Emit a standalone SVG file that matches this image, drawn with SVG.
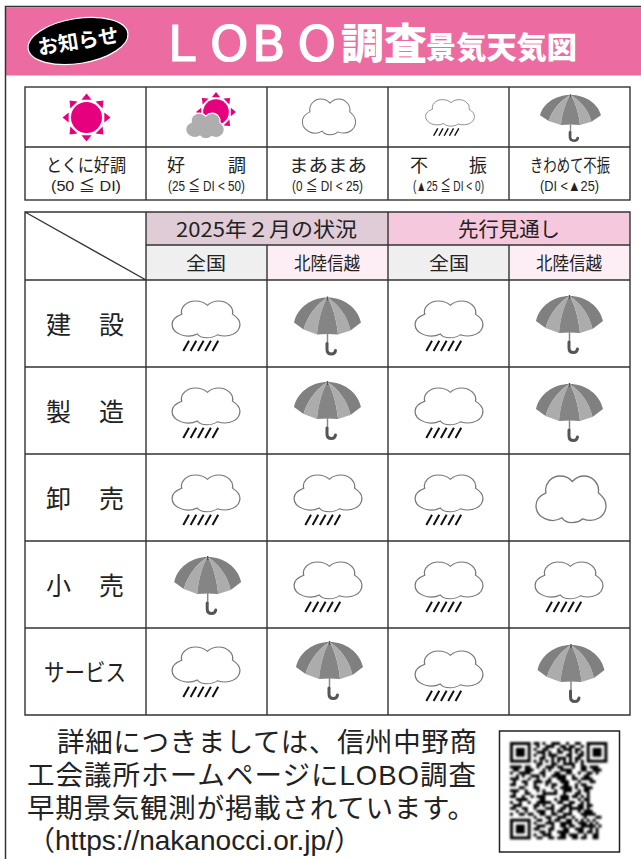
<svg xmlns="http://www.w3.org/2000/svg" width="641" height="859" viewBox="0 0 641 859">
<style>
text{font-family:"Noto Sans CJK JP","Noto Sans",sans-serif;fill:#222}
.grid{stroke:#333;stroke-width:1.4;fill:none}
.lab{font-size:18px}
.sm{font-size:15px;font-family:"Liberation Sans","Noto Sans CJK JP",sans-serif}
.hd{font-size:20.5px}
.sub{font-size:18px}
.row{font-size:25px}
.body{font-size:27.500px;font-family:"Liberation Sans","Noto Sans CJK JP",sans-serif;font-weight:400}
.cl{fill:#fff;stroke:#777;stroke-width:1.300;vector-effect:non-scaling-stroke}
.r{stroke:#111;stroke-width:2}
.ti{fill:#fff;font-weight:700}
</style>
<defs>
<path id="cp" d="M1.300,-18C5,-22 9,-23.500 13,-23.500C22,-23.500 29,-15 27.300,-6.700C32,-3 35,1 35,6C35,17 24,24 11.700,19.300C7,24 -5,25 -9,18.300C-20,25 -35,18 -35,6C-35,0 -31,-4 -25,-6.700C-27,-15 -20,-23.500 -11,-23.500C-6,-23.500 -2,-22 1.300,-18Z"/>
<g id="cloud"><use href="#cp" class="cl"/></g>
<g id="rain"><use href="#cp" class="cl" transform="scale(.97 .79)"/><path class="r" d="M-22.700 31.600L-17 21.300M-15.400 31.600L-9.700 21.300M-8.100 31.600L-2.400 21.300M-.8 31.600L4.900 21.300M6.500 31.600L12.200 21.300"/></g>
<g id="umb">
<path fill="#808080" d="M0,0C-16,0 -30,10 -33.500,25L-24,32C-20,18 -10,6 0,0Z"/>
<path fill="#acacac" d="M0,0C-10,6 -20,18 -24,32L-10.500,37C-9,20 -4,6 0,0Z"/>
<path fill="#858585" d="M0,0C-4,6 -9,20 -10.500,37Q0,36 10.500,37C9,20 4,6 0,0Z"/>
<path fill="#acacac" d="M0,0C10,6 20,18 23,33L10.500,37C9,20 4,6 0,0Z"/>
<path fill="#808080" d="M0,0C16,0 30,10 33.500,25L23,33C20,18 10,6 0,0Z"/>
<path d="M0,-1V3" stroke="#555" stroke-width="1.500"/>
<path d="M0,36V47" stroke="#888" stroke-width="1.500" fill="none"/>
<path d="M-.5,46V52Q-.5,56.500 4,56.500Q7.500,56.500 8,53" stroke="#555" stroke-width="3" fill="none" stroke-linecap="round"/>
</g>
<g id="sun">
<g fill="#e6007e">
<path id="ray" d="M0,-24L-5,-17.800H5Z"/>
<use href="#ray" transform="rotate(45)"/><use href="#ray" transform="rotate(90)"/><use href="#ray" transform="rotate(135)"/><use href="#ray" transform="rotate(180)"/><use href="#ray" transform="rotate(225)"/><use href="#ray" transform="rotate(270)"/><use href="#ray" transform="rotate(315)"/>
<circle r="15.500"/>
</g>
</g>
<filter id="soft" x="-5%" y="-5%" width="110%" height="110%"><feGaussianBlur stdDeviation=".45"/></filter>
</defs>

<rect width="641" height="859" fill="#fff"/>
<g id="header">
<rect x="6" y="7.500" width="635" height="68" fill="#ec6ca2"/>
<path d="M5.500 859V6.500H641" fill="none" stroke="#333" stroke-width="1.500"/>
<g id="badge" transform="rotate(-9 78 41)">
<ellipse cx="78" cy="41" rx="50.500" ry="22.500" fill="#000" stroke="#fff" stroke-width="1.200"/>
<text class="ti" x="78" y="48.500" font-size="20.500" text-anchor="middle">お知らせ</text>
</g>
<text class="ti" style="font-family:'DejaVu Sans',sans-serif;font-weight:400;stroke:#fff;stroke-width:1.200" font-size="49" y="61" x="168 210 252 297.500">LOBO</text>
<text class="ti" font-size="42.500" y="59" x="341" textLength="86" lengthAdjust="spacingAndGlyphs" style="font-weight:900">調査</text>
<text class="ti" font-size="30" y="57.500" x="426" textLength="151" lengthAdjust="spacingAndGlyphs" style="font-weight:900">景気天気図</text>
</g>

<g id="legend">
<rect x="25" y="87" width="605" height="113" class="grid"/>
<g id="connectors-legend" class="grid"><path d="M25 147H630M146 87V200M267 87V200M388 87V200M509 87V200"/></g>
<g id="leg1"><use href="#sun" x="86.500" y="117.500"/>
<text class="lab" x="46" y="171.500" textLength="80" lengthAdjust="spacingAndGlyphs">とくに好調</text>
<text class="sm" x="51" y="191" textLength="70" lengthAdjust="spacingAndGlyphs">(50 ≦ DI)</text></g>
<g id="leg2"><use href="#sun" transform="translate(216 112) scale(.83)"/>
<use href="#cp" transform="translate(205 126) scale(.55)" fill="#aeaeae" stroke="#fff" stroke-width="2"/>
<text class="lab" x="167" y="171.500">好</text><text class="lab" x="228" y="171.500">調</text>
<text class="sm" x="168" y="191" textLength="77" lengthAdjust="spacingAndGlyphs">(25 ≦ DI &lt; 50)</text></g>
<g id="leg3"><use href="#cloud" transform="translate(329 117) scale(.76 .77)"/>
<text class="lab" x="289" y="171.500" textLength="78" lengthAdjust="spacingAndGlyphs">まあまあ</text>
<text class="sm" x="292" y="191" textLength="71" lengthAdjust="spacingAndGlyphs">(0 ≦ DI &lt; 25)</text></g>
<g id="leg4"><use href="#rain" transform="translate(450 113) scale(.72)"/>
<text class="lab" x="410" y="171.500">不</text><text class="lab" x="469" y="171.500">振</text>
<text class="sm" x="413" y="191" textLength="71" lengthAdjust="spacingAndGlyphs">(▲25 ≦ DI &lt; 0)</text></g>
<g id="leg5"><use href="#umb" transform="translate(570.500 95) scale(.91 .81)"/>
<text class="lab" x="530" y="171.500" textLength="80" lengthAdjust="spacingAndGlyphs">きわめて不振</text>
<text class="sm" x="540" y="191" textLength="59" lengthAdjust="spacingAndGlyphs">(DI &lt;▲25)</text></g>
</g>

<g id="table">
<rect x="146" y="212" width="242" height="33" fill="#e0ccd6"/>
<rect x="388" y="212" width="242" height="33" fill="#f6c8de"/>
<rect x="146" y="245" width="121" height="35" fill="#efefef"/>
<rect x="267" y="245" width="121" height="35" fill="#fdeef5"/>
<rect x="388" y="245" width="121" height="35" fill="#efefef"/>
<rect x="509" y="245" width="121" height="35" fill="#fdeef5"/>
<g id="connectors" class="grid">
<path d="M25 212H630V715H25ZM146 245H630M25 280H630M25 367H630M25 454H630M25 541H630M25 628H630M146 212V715M267 245V715M388 212V715M509 245V715M25 212L146 280"/>
</g>
<text class="hd" x="176" y="236.500" textLength="181" lengthAdjust="spacingAndGlyphs">2025年２月の状況</text>
<text class="hd" x="458" y="236.500" textLength="102" lengthAdjust="spacingAndGlyphs">先行見通し</text>
<text class="sub" x="186" y="270" textLength="40" lengthAdjust="spacingAndGlyphs">全国</text>
<text class="sub" x="294" y="270" textLength="66" lengthAdjust="spacingAndGlyphs">北陸信越</text>
<text class="sub" x="429" y="270" textLength="40" lengthAdjust="spacingAndGlyphs">全国</text>
<text class="sub" x="536" y="270" textLength="66" lengthAdjust="spacingAndGlyphs">北陸信越</text>
<g id="row1"><text class="row" x="46" y="334">建</text><text class="row" x="99" y="334">設</text>
<use href="#rain" x="206" y="319.500"/><use href="#umb" x="327.500" y="297.500"/><use href="#rain" x="449" y="319.500"/><use href="#umb" x="569.500" y="296"/></g>
<g id="row2"><text class="row" x="46" y="421">製</text><text class="row" x="99" y="421">造</text>
<use href="#rain" x="206" y="406.500"/><use href="#umb" x="327.500" y="382"/><use href="#rain" x="449" y="406.500"/><use href="#umb" x="569.500" y="384"/></g>
<g id="row3"><text class="row" x="46" y="508">卸</text><text class="row" x="99" y="508">売</text>
<use href="#rain" x="206" y="493.500"/><use href="#rain" x="328" y="493.500"/><use href="#rain" x="449" y="493.500"/><use href="#cloud" x="571" y="499.500"/></g>
<g id="row4"><text class="row" x="46" y="595">小</text><text class="row" x="99" y="595">売</text>
<use href="#umb" x="207.700" y="557"/><use href="#rain" x="328" y="580.500"/><use href="#rain" x="449" y="580.500"/><use href="#rain" x="569" y="580.500"/></g>
<g id="row5"><text class="row" style="font-size:24px" x="44" y="681" textLength="82" lengthAdjust="spacingAndGlyphs">サービス</text>
<use href="#rain" x="206" y="665.500"/><use href="#umb" x="329.500" y="642"/><use href="#rain" x="449" y="669.500"/><use href="#umb" x="571" y="645"/></g>
</g>

<g id="note">
<text class="body" x="57" y="752" textLength="420" lengthAdjust="spacing">詳細につきましては、信州中野商</text>
<text class="body" x="27" y="785" textLength="449" lengthAdjust="spacing">工会議所ホームページにLOBO調査</text>
<text class="body" x="27" y="818" textLength="448" lengthAdjust="spacing">早期景気観測が掲載されています。</text>
<text class="body" x="27" y="849.500" textLength="335" lengthAdjust="spacingAndGlyphs">（https://nakanocci.or.jp/）</text>
</g>

<g id="qr">
<rect x="499.500" y="731" width="120" height="121" fill="#fff" stroke="#222" stroke-width="1.500"/>
<g transform="translate(510 742) scale(2.95)" filter="url(#soft)">
<g fill="none" stroke="#000"><rect x=".5" y=".5" width="6" height="6"/><rect x="26.500" y=".5" width="6" height="6"/><rect x=".5" y="26.500" width="6" height="6"/></g>
<rect x="2" y="2" width="3" height="3"/><rect x="28" y="2" width="3" height="3"/><rect x="2" y="28" width="3" height="3"/>
<path stroke="#000" stroke-width="1" fill="none" d="M8 .5h2m1 0h1m2 0h3m2 0h1m2 0h2
M9 1.500h1m2 0h3m2 0h2m1 0h2m2 0h1
M8 2.500h1m2 0h2m3 0h1m1 0h3m1 0h2
M9 3.500h3m1 0h1m2 0h2m2 0h1m1 0h1m1 0h1
M8 4.500h1m2 0h1m1 0h3m3 0h2m2 0h2
M10 5.500h2m2 0h1m1 0h3m1 0h1m1 0h2
M8 6.500h1m1 0h1m1 0h1m1 0h1m1 0h1m1 0h1m1 0h1m1 0h1m1 0h1
M9 7.500h2m3 0h2m2 0h4m2 0h1
M0 8.500h4m1 0h2m2 0h1m2 0h3m1 0h2m3 0h1m2 0h2m1 0h3
M1 9.500h2m2 0h3m3 0h1m1 0h1m3 0h4m3 0h2m2 0h3
M0 10.500h1m2 0h4m3 0h2m3 0h2m2 0h2m2 0h1m2 0h2m1 0h1
M2 11.500h1m1 0h1m2 0h3m1 0h1m2 0h5m2 0h1m3 0h2
M0 12.500h3m3 0h1m2 0h1m3 0h1m2 0h3m2 0h2m1 0h4
M1 13.500h1m2 0h2m2 0h3m1 0h2m3 0h3m3 0h1m3 0h2
M0 14.500h2m3 0h1m2 0h1m3 0h1m1 0h2m2 0h2m2 0h1m1 0h2
M3 15.500h2m3 0h2m4 0h1m2 0h4m1 0h1m2 0h3
M0 16.500h3m2 0h1m3 0h1m1 0h1m3 0h1m2 0h3m2 0h1m1 0h2
M1 17.500h1m3 0h2m4 0h5m2 0h1m3 0h2m2 0h1
M0 18.500h2m2 0h1m2 0h1m1 0h3m5 0h3m1 0h2m1 0h1m1 0h1
M2 19.500h4m4 0h2m3 0h1m1 0h3m3 0h1m1 0h2
M0 20.500h1m2 0h1m2 0h1m2 0h5m2 0h2m2 0h2m2 0h1m1 0h1
M1 21.500h3m4 0h2m1 0h1m2 0h1m3 0h3m2 0h2m1 0h2
M0 22.500h2m2 0h2m2 0h1m3 0h3m2 0h2m1 0h5m1 0h1
M2 23.500h1m2 0h1m3 0h3m2 0h1m1 0h2m2 0h1m2 0h1m1 0h3
M0 24.500h1m2 0h2m1 0h2m2 0h2m2 0h2m2 0h3m3 0h5
M8 25.500h1m3 0h2m2 0h3m2 0h1m3 0h1m3 0h2
M9 26.500h2m2 0h1m1 0h2m2 0h2m1 0h1m1 0h1m1 0h1m1 0h1
M8 27.500h1m3 0h3m2 0h4m2 0h3m1 0h1m1 0h1
M9 28.500h3m2 0h1m2 0h2m1 0h2m2 0h5m1 0h1
M8 29.500h2m3 0h2m3 0h2m2 0h3m2 0h1m1 0h1
M10 30.500h2m1 0h1m2 0h4m3 0h2m1 0h2m1 0h1
M8 31.500h1m2 0h3m3 0h2m1 0h3m2 0h1m2 0h2
M9 32.500h2m2 0h2m1 0h3m2 0h2m1 0h2m2 0h2"/>
</g>
</g>
</svg>
